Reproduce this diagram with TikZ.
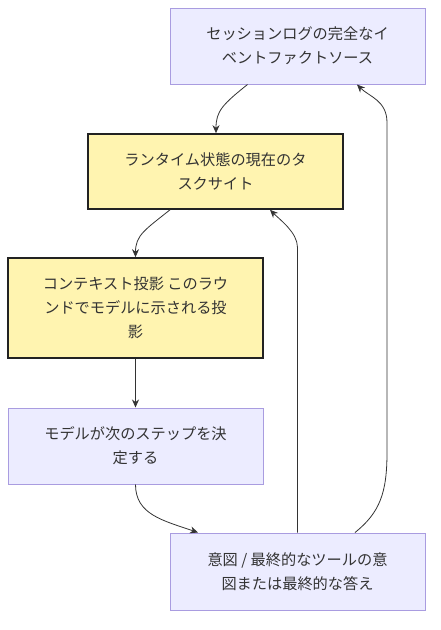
\documentclass[tikz,border=0pt]{standalone}
\usepackage{fontspec}
\setmainfont{Noto Sans CJK JP}
\usetikzlibrary{arrows.meta,calc}
\definecolor{pfill}{HTML}{ECECFF}
\definecolor{pstroke}{HTML}{A99CE0}
\definecolor{yfill}{HTML}{FFF4B0}
\definecolor{ystroke}{HTML}{222222}
\definecolor{edge}{HTML}{333333}
\definecolor{txt}{HTML}{333333}
\tikzset{
  pbox/.style={draw=pstroke, fill=pfill, line width=1pt, minimum width=255pt, inner sep=0pt, align=center, text=txt, font=\fontsize{15.2pt}{24pt}\selectfont},
  ybox/.style={draw=ystroke, fill=yfill, line width=1.6pt, minimum width=255pt, inner sep=0pt, align=center, text=txt, font=\fontsize{15.2pt}{24pt}\selectfont},
  conn/.style={draw=edge, line width=0.8pt, -{Stealth[length=8pt,width=7pt]}}
}
\begin{document}
\begin{tikzpicture}[x=1pt,y=-1pt]
\useasboundingbox (0,0) rectangle (441,630);
\node[pbox, minimum height=76pt] (n1) at (297.5,46) {セッションログの完全なイ\\ベントファクトソース};
\node[ybox, minimum height=75pt] (n2) at (215.5,171.5) {ランタイム状態の現在のタ\\スクサイト};
\node[ybox, minimum height=100pt] (n3) at (135.5,308) {コンテキスト投影 このラウ\\ンドでモデルに示される投\\影};
\node[pbox, minimum height=76pt] (n4) at (135.5,446) {モデルが次のステップを決\\定する};
\node[pbox, minimum height=77pt] (n5) at (297.5,571.5) {意図 / 最終的なツールの意\\図または最終的な答え};
\draw[conn] ([xshift=-50pt]n1.south) .. controls +(-25,20) and +(0,-22) .. ([xshift=0.5pt]n2.north);
\draw[conn] ([xshift=-45.5pt]n2.south) .. controls +(-25,20) and +(0,-22) .. (n3.north);
\draw[conn] (n3.south) -- (n4.north);
\draw[conn] (n4.south) .. controls +(0,30) and +(-35,-12) .. ([xshift=-99.5pt]n5.north);
\draw[conn] (n5.north) -- ++(0,-285) .. controls +(0,-15) and +(10,10) .. ([xshift=54.5pt]n2.south);
\draw[conn] ([xshift=57.5pt]n5.north) .. controls +(25,-20) and +(0,40) .. ++(32,-80) -- ++(0,-330) .. controls +(0,-22) and +(12,12) .. ([xshift=59.5pt]n1.south);
\end{tikzpicture}
\end{document}
